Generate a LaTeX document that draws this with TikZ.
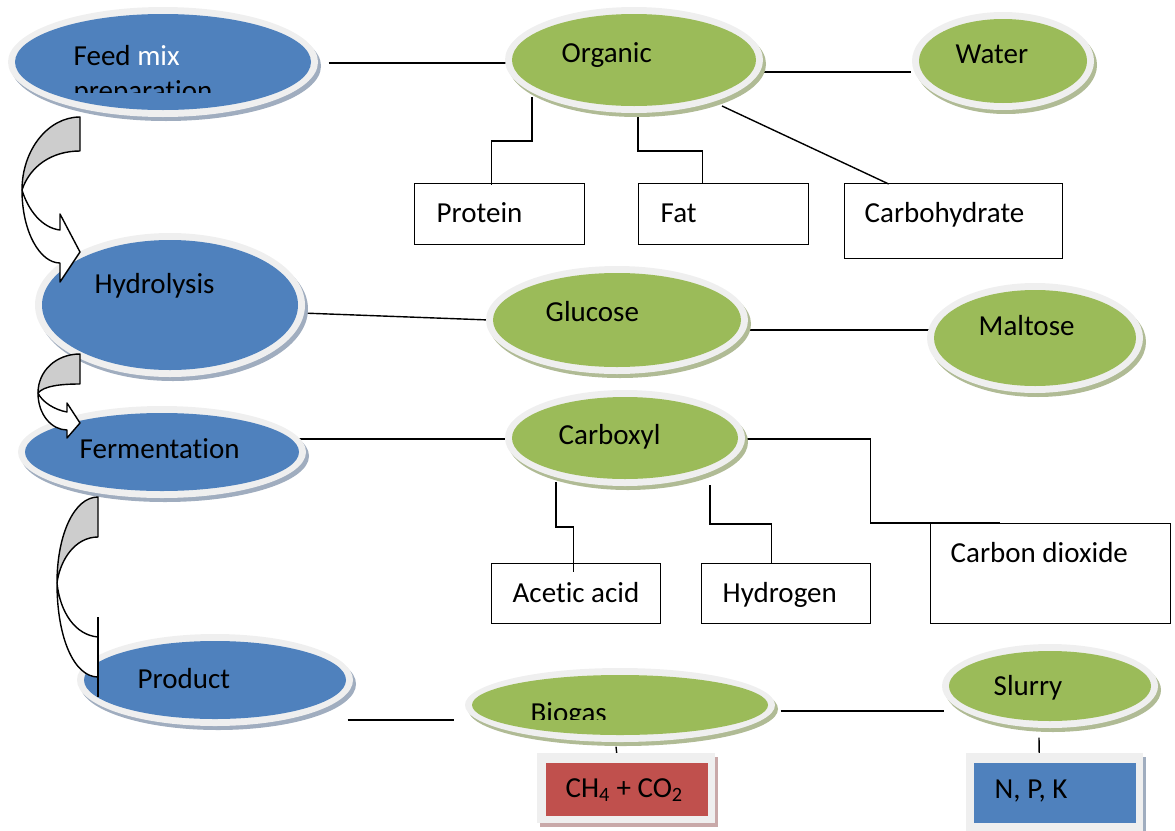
\documentclass[tikz,border=0pt]{standalone}
\usepackage{fontspec}
\setmainfont{Carlito}[Ligatures={NoCommon,NoContextual}]
\usetikzlibrary{shapes.geometric,calc,backgrounds}
\definecolor{obl}{HTML}{4F81BD}
\definecolor{ogr}{HTML}{9BBB59}
\definecolor{ord}{HTML}{C0504D}
\definecolor{rim}{HTML}{EFEFEF}
\definecolor{shb}{HTML}{A0ADBF}
\definecolor{shg}{HTML}{B0BB95}
\definecolor{shr}{HTML}{C9A9A9}
\definecolor{agray}{HTML}{CDCDCD}
\newcommand\wordell[7]{%
  \fill[#7] (#2+3,#3+4) ellipse [x radius=#4pt, y radius=#5pt];
  \node[ellipse, fill=rim, inner sep=0pt, minimum width=2*#4pt, minimum height=2*#5pt] (#1) at (#2,#3) {};
  \fill[#6] (#2,#3) ellipse [x radius=#4pt-7pt, y radius=#5pt-7pt];
}
\begin{document}
\begin{tikzpicture}[x=1pt,y=-1pt, line width=1.4pt,
  txt/.style={font=\fontsize{29}{35}\selectfont, inner sep=0pt, anchor=base west},
  boxn/.style={draw, line width=1.4pt, inner sep=0pt, anchor=north west},
  conn/.style={draw, line width=1.4pt},
  carrow/.style={draw, line width=1.4pt, line join=round}]
\useasboundingbox (0,0) rectangle (1175,830);

% ellipses
\wordell{feed}{163}{62}{155}{55}{obl}{shb}
\wordell{org}{634}{60}{129}{53}{ogr}{shg}
\wordell{wat}{1003}{61}{91}{49}{ogr}{shg}
\wordell{hyd}{170}{305}{135}{72}{obl}{shb}
\wordell{glu}{617}{320}{131}{54}{ogr}{shg}
\wordell{mal}{1035}{338}{108}{55}{ogr}{shg}
\wordell{fer}{162}{452}{144}{46}{obl}{shb}
\wordell{cbx}{625}{438}{120}{48}{ogr}{shg}
\wordell{prd}{215}{680}{138}{46}{obl}{shb}
\wordell{bio}{620}{705}{155}{37}{ogr}{shg}
\wordell{slu}{1050}{686}{108}{42}{ogr}{shg}

% boxes
\node[boxn, minimum width=170pt, minimum height=61pt] (prot) at (414,183) {};
\node[boxn, minimum width=170pt, minimum height=61pt] (fat) at (638,183) {};
\node[boxn, minimum width=218pt, minimum height=75pt] (carb) at (844,183) {};
\node[boxn, minimum width=169pt, minimum height=60pt] (acet) at (491,563) {};
\node[boxn, minimum width=169pt, minimum height=60pt] (hydg) at (701,563) {};
\node[boxn, minimum width=240pt, minimum height=100pt] (co2) at (930,523) {};

\fill[shr] (540,757) rectangle (718,827);
\fill[rim] (537,753) rectangle (715,823);
\node[fill=ord, inner sep=0pt, anchor=north west, minimum width=162pt, minimum height=53pt] (ch4) at (545,762) {};
\fill[shb] (969,757) rectangle (1146,832);
\fill[rim] (966,753) rectangle (1143,832);
\node[fill=obl, inner sep=0pt, anchor=north west, minimum width=162pt, minimum height=60pt] (npk) at (973,762) {};

% texts
\node[txt] (feedT) at (73,65) {Feed \textcolor{white}{mix}};
\begin{scope}
\clip (0,0) rectangle (400,92);
\node[txt] (feedT2) at (73,100) {preparation};
\end{scope}
\node[txt] (orgT) at (561,62) {Organic};
\node[txt] (watT) at (955,63) {Water};
\node[txt] (protT) at (436,222) {Protein};
\node[txt] (fatT) at (660,222) {Fat};
\node[txt] (carbT) at (864,222) {Carbohydrate};
\node[txt] (hydT) at (94,293) {Hydrolysis};
\node[txt] (gluT) at (545,321) {Glucose};
\node[txt] (malT) at (978,335) {Maltose};
\node[txt] (ferT) at (79,458) {Fermentation};
\node[txt] (cbxT) at (558,444) {Carboxyl};
\node[txt] (acetT) at (512,602) {Acetic acid};
\node[txt] (hydgT) at (722,602) {Hydrogen};
\node[txt] (co2T) at (950,562) {Carbon dioxide};
\node[txt] (prdT) at (137,688) {Product};
\begin{scope}
\clip (400,650) rectangle (800,719);
\node[txt] (bioT) at (530,722) {Biogas};
\end{scope}
\node[txt] (sluT) at (993,695) {Slurry};
\node[txt] (ch4T) at (565,797) {CH\textsubscript{4} + CO\textsubscript{2}};
\node[txt] (npkT) at (994,798) {N, P, K};

% connectors
\begin{scope}[on background layer]
\draw[conn] ($(feed.east)+(10,1)$) -- ($(org.west)+(2,3)$);
\draw[conn] ($(org.east)+(-6,12)$) -- ($(wat.west)+(0,11)$);
\draw[conn] ($(org.center)+(-102,37)$) -- ++(0,44) -| ($(prot.north)+(-8,2)$);
\draw[conn] ($(org.center)+(4,50)$) -- ++(0,41) -| ($(fat.north)+(-21,1)$);
\draw[conn] ($(org.center)+(88,46)$) -- ($(carb.north)+(-65,1)$);
\draw[conn] ($(hyd.east)+(-4,8)$) -- ($(glu.west)+(4,0)$);
\draw[conn] ($(glu.east)+(-5,10)$) -- ($(mal.west)+(4,-8)$);
\draw[conn] ($(fer.east)+(-8,-13)$) -- ($(cbx.west)+(4,1)$);
\draw[conn] ($(cbx.east)+(-5,1)$) -- ++(130,0) |- ($(co2.north west)+(70,0)$);
\draw[conn] ($(cbx.center)+(-69,44)$) -- ++(0,45) -| ($(acet.north)+(-2.5,9)$);
\draw[conn] ($(cbx.center)+(85,47)$) -- ++(0,39) -| ($(hydg.north)+(-14.5,1)$);
\draw[conn] ($(prd.east)+(-6,40)$) -- ($(bio.west)+(-10,15)$);
\draw[conn] ($(bio.east)+(5,6)$) -- ($(slu.west)+(3,25)$);
\draw[conn] ($(bio.south)+(-4,4)$) -- ($(ch4.north)+(-10,-9)$);
\draw[conn] ($(slu.south)+(-11,9)$) -- ($(npk.north)+(-15.5,-9)$);
\end{scope}

% curved arrows
\filldraw[carrow, fill=agray] (80,117) .. controls (48,117) and (22,150) .. (22,190)
  .. controls (30,166) and (52,151) .. (80,151) -- cycle;
\filldraw[carrow, fill=white] (22,190) .. controls (22,232) and (40,263) .. (60,263)
  -- (60,282) -- (80,252) -- (60,214) -- (60,230)
  .. controls (42,228) and (28,210) .. (22,190) -- cycle;

\filldraw[carrow, fill=agray] (80,354) .. controls (56,354) and (38,371) .. (38,393)
  .. controls (44,386) and (60,384) .. (80,384) -- cycle;
\filldraw[carrow, fill=white] (38,393) .. controls (38,415) and (52,430) .. (67,430)
  -- (67,438) -- (80,423) -- (67,403) -- (67,412)
  .. controls (55,410) and (42,402) .. (38,393) -- cycle;

\filldraw[carrow, fill=agray] (98,497) .. controls (74,497) and (57,535) .. (57,583)
  .. controls (60,560) and (75,537) .. (98,537) -- cycle;
\filldraw[carrow, fill=white] (57,583) .. controls (57,640) and (75,677) .. (98,677)
  -- (98,637) .. controls (75,635) and (60,612) .. (57,583) -- cycle;
\draw[carrow] (98,617) -- (98,697);
\end{tikzpicture}
\end{document}
